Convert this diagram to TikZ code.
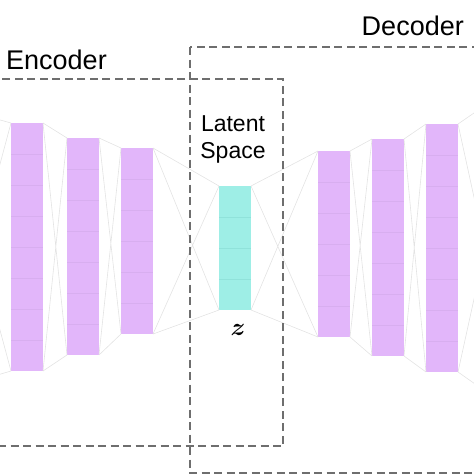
\documentclass[tikz,border=0pt]{standalone}
\usepackage{fontspec}
\setmainfont{Liberation Sans}
\definecolor{layerpurple}{HTML}{E2B6FA}
\definecolor{cellpurple}{HTML}{D8AEF0}
\definecolor{latentcyan}{HTML}{9EEEE6}
\definecolor{cellcyan}{HTML}{90E2DA}
\definecolor{boxgray}{HTML}{6E6E6E}
\tikzset{
	layer/.style={inner sep=0pt, outer sep=0pt, minimum width=32pt, anchor=north west},
	link/.style={draw=black!11, line width=0.6pt},
	part/.style={draw=boxgray, line width=1.4pt, dash pattern=on 8pt off 4.5pt},
	title/.style={font=\fontsize{27}{30}\selectfont, inner sep=0pt}
}
\begin{document}
\begin{tikzpicture}[x=1pt,y=-1pt]
	\useasboundingbox (0,0) rectangle (474,474);
	\clip (0,0) rectangle (474,474);
	% layers: name/left/top/cells/fill/line
	\foreach \lname/\lx/\ly/\lcells/\lfill/\lline in {e1/11/123/8/layerpurple/cellpurple, e2/67/138/7/layerpurple/cellpurple, e3/121/148/6/layerpurple/cellpurple, z/219/186/4/latentcyan/cellcyan, d1/318/151/6/layerpurple/cellpurple, d2/372/139/7/layerpurple/cellpurple, d3/426/124/8/layerpurple/cellpurple}{
		\node[layer, fill=\lfill, minimum height=\lcells*31pt] (\lname) at (\lx,\ly) {};
		\pgfmathtruncatemacro{\llast}{\lcells-1}
		\foreach \k in {1,...,\llast}{
			\draw[draw=\lline, line width=0.5pt] ([yshift=-\k*31pt]\lname.north west) -- ([yshift=-\k*31pt]\lname.north east);
		}
	}
	% layers cut off by the frame
	\coordinate (inTop) at (-61,103);
	\coordinate (inBot) at (-61,392);
	\coordinate (outTop) at (522,80);
	\coordinate (outBot) at (522,417);
	\draw[link] (inTop)--(e1.north west) (inBot)--(e1.south west) (inTop)--(e1.south west) (inBot)--(e1.north west);
	\draw[link] (outTop)--(d3.north east) (outBot)--(d3.south east) (outTop)--(d3.south east) (outBot)--(d3.north east);
	\foreach \a/\b in {e1/e2, e2/e3, e3/z, z/d1, d1/d2, d2/d3}
		\draw[link] (\a.north east)--(\b.north west) (\a.south east)--(\b.south west) (\a.north east)--(\b.south west) (\a.south east)--(\b.north west);
	% encoder and decoder parts
	\draw[part] (-10,79) rectangle (283,446);
	\draw[part] (190,47) rectangle (490,473);
	\node[title, anchor=base west] (enc) at (6,69) {Encoder};
	\node[title, anchor=base east] (dec) at (464,35) {Decoder};
	\node[font=\fontsize{23}{27}\selectfont, align=center, inner sep=0pt] (lat) at (233,139) {Latent\\Space};
	\node[font=\fontsize{31}{34}\selectfont\boldmath, inner sep=0pt] (zlab) at (238,330) {$z$};
\end{tikzpicture}
\end{document}
